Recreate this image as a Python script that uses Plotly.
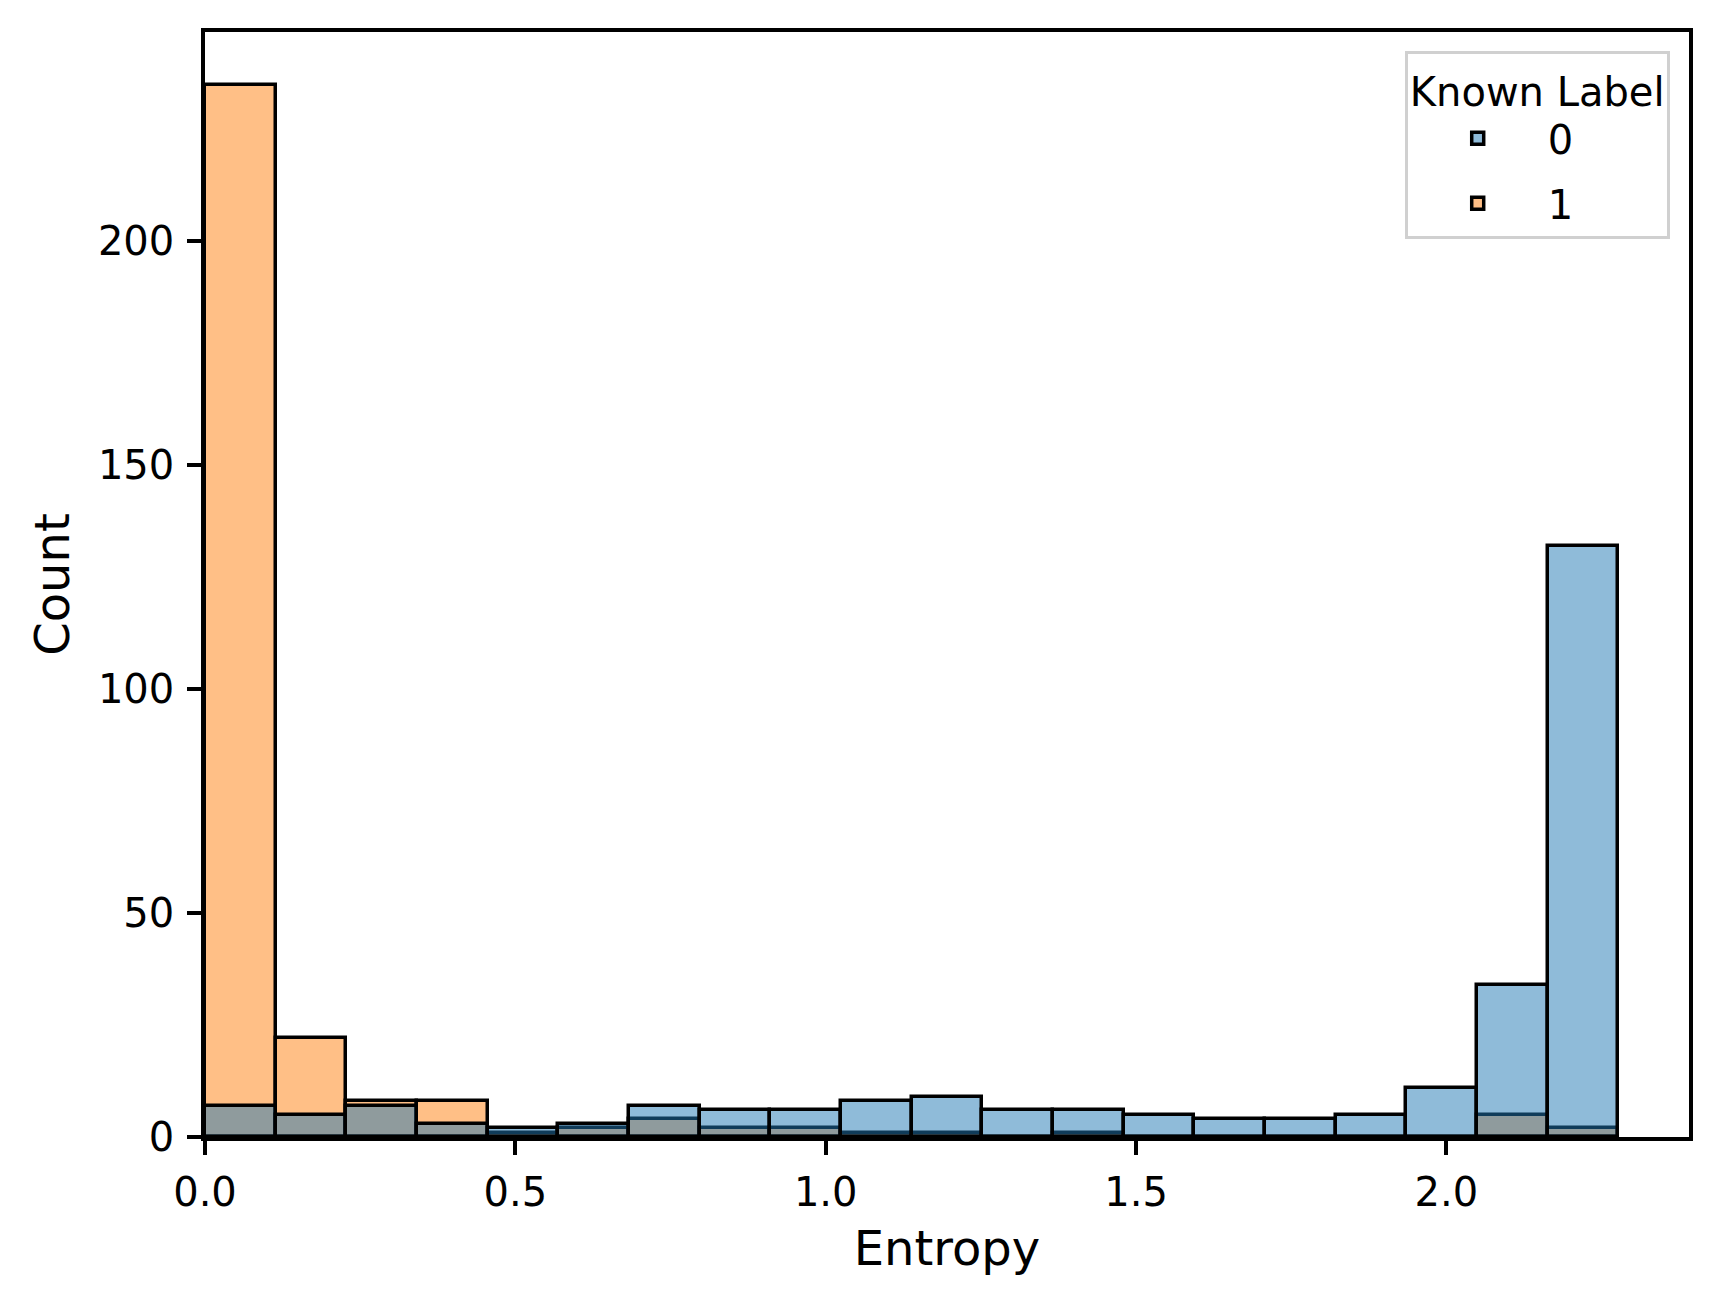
import numpy as np
import plotly.graph_objects as go

# ---- data ----
n_bins = 20
entropy_max = 2.277          # right edge of the last bin
labels = ["0", "1"]
counts_label0 = [7, 5, 7, 3, 2, 3, 7, 6, 6, 8, 9, 6, 6, 5, 4, 4, 5, 11, 34, 132]
counts_label1 = [235, 22, 8, 8, 1, 2, 4, 2, 2, 1, 1, 0, 1, 0, 0, 0, 0, 0, 5, 2]
x_ticks = [0.0, 0.5, 1.0, 1.5, 2.0]
y_ticks = [0, 50, 100, 150, 200]

edges = np.linspace(0, entropy_max, n_bins + 1)
centers = (edges[:-1] + edges[1:]) / 2
width = edges[1] - edges[0]

FONT = "DejaVu Sans"
fill0 = "rgba(31,119,180,0.5)"
fill1 = "rgba(255,127,14,0.5)"
EDGE_W = 3.5

fig = go.Figure()
# label 1 drawn first (underneath), label 0 on top
fig.add_trace(go.Bar(
    x=centers, y=counts_label1, width=[width] * n_bins, name=labels[1],
    legendgroup="g1", legendrank=2,
    marker=dict(color=fill1, line=dict(color="black", width=EDGE_W)),
))
fig.add_trace(go.Bar(
    x=centers, y=counts_label0, width=[width] * n_bins, name=labels[0],
    legendgroup="g0", legendrank=1,
    marker=dict(color=fill0, line=dict(color="black", width=EDGE_W)),
))

ymax = max(max(counts_label0), max(counts_label1)) * 1.05
xmax = entropy_max * 1.05

axis_common = dict(
    showline=True, linecolor="black", linewidth=3.5, mirror=True,
    ticks="outside", ticklen=14, tickwidth=3.5, tickcolor="black",
    showgrid=False, zeroline=False,
    tickfont=dict(family=FONT, size=40, color="black"),
)

# the page body has an 8px margin, so the figure is shrunk by 16px and margins shifted
fig.update_layout(
    width=1705, height=1288, autosize=False,
    paper_bgcolor="white", plot_bgcolor="white",
    barmode="overlay", bargap=0,
    margin=dict(l=197, r=24, t=24, b=159),
    font=dict(family=FONT, color="black"),
    xaxis=dict(
        range=[0, xmax], tickvals=x_ticks, tickformat=".1f",
        ticklabelstandoff=3,
        title=dict(text="Entropy", font=dict(family=FONT, size=48, color="black"), standoff=19),
        **axis_common,
    ),
    yaxis=dict(
        range=[0, ymax], tickvals=y_ticks,
        ticklabelstandoff=5,
        title=dict(text="Count", font=dict(family=FONT, size=48, color="black"), standoff=14),
        **axis_common,
    ),
    legend=dict(
        title=dict(text="Known Label", font=dict(family=FONT, size=40, color="black"), side="top center"),
        font=dict(family=FONT, size=40, color="black"),
        traceorder="grouped",
        tracegroupgap=10,
        itemwidth=130,
        x=0.987, y=0.983, xanchor="right", yanchor="top",
        bgcolor="rgba(255,255,255,0.8)", bordercolor="#d0d0d0", borderwidth=3,
    ),
    showlegend=True,
)

fig.write_html("out.html")
